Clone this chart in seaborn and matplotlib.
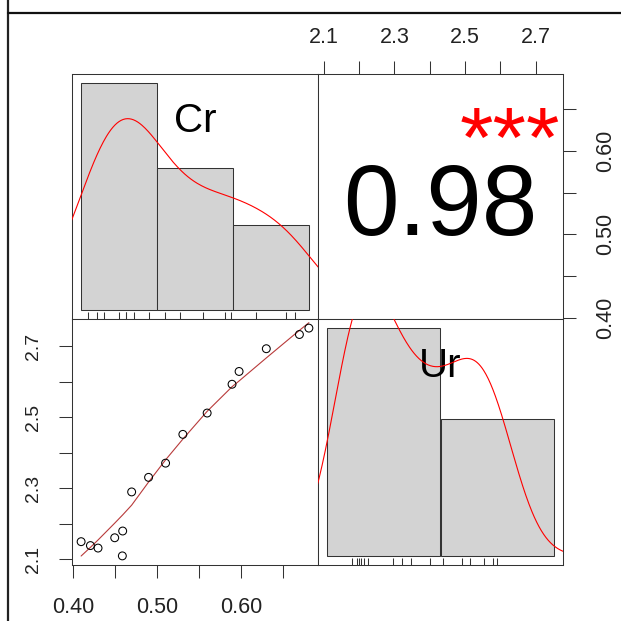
import numpy as np
import pandas as pd
import matplotlib
matplotlib.use("Agg")
import matplotlib.pyplot as plt
from matplotlib.lines import Line2D
import seaborn as sns

# ── data ─────────────────────────────────────────────────────
cr = [0.4095, 0.4206, 0.4297, 0.4496, 0.4591, 0.4587, 0.4698, 0.4900,
      0.5103, 0.5309, 0.5599, 0.5896, 0.5980, 0.6305, 0.6700, 0.6813]
ur = [2.150, 2.139, 2.132, 2.161, 2.180, 2.110, 2.290, 2.331,
      2.371, 2.452, 2.512, 2.593, 2.629, 2.693, 2.733, 2.751]
cr_breaks = [0.4, 0.5, 0.6, 0.7]
ur_breaks = [2.0, 2.5, 3.0]
corr_text = "0.98"
signif_text = "***"
var_names = ["Cr", "Ur"]
cr_ticks = [0.40, 0.45, 0.50, 0.55, 0.60, 0.65]
cr_ticklabels = ["0.40", "", "0.50", "", "0.60", ""]
ur_ticks = [2.1, 2.2, 2.3, 2.4, 2.5, 2.6, 2.7]
ur_ticklabels = ["2.1", "", "2.3", "", "2.5", "", "2.7"]

df = pd.DataFrame({"Cr": cr, "Ur": ur})

# ── style ────────────────────────────────────────────────────
sns.set_style("ticks")
plt.rcParams["font.family"] = ["Liberation Sans", "DejaVu Sans"]
DARK = "#333333"
LW = 0.75


def bw_nrd0(x):
    x = np.asarray(x)
    hi = np.std(x, ddof=1)
    iqr = np.subtract(*np.percentile(x, [75, 25]))
    lo = min(hi, iqr / 1.34)
    return 0.9 * lo * len(x) ** (-0.2)


def lowess(x, y, f=2 / 3, iters=3):
    # plain version of R's lowess()
    order = np.argsort(x)
    x = np.asarray(x, float)[order]
    y = np.asarray(y, float)[order]
    n = len(x)
    ns = max(min(int(f * n + 1e-7), n), 2)
    rw = np.ones(n)
    fit = np.zeros(n)
    for _ in range(iters + 1):
        for i in range(n):
            d = np.abs(x - x[i])
            h = np.sort(d)[ns - 1]
            w = np.clip(1 - (d / h) ** 3, 0, 1) ** 3 * rw
            xm = np.sum(w * x) / np.sum(w)
            ym = np.sum(w * y) / np.sum(w)
            sxx = np.sum(w * (x - xm) ** 2)
            b = np.sum(w * (x - xm) * (y - ym)) / sxx if sxx > 0 else 0
            fit[i] = ym + b * (x[i] - xm)
        res = y - fit
        s = np.median(np.abs(res))
        rw = np.clip(1 - (res / (6 * s)) ** 2, 0, 1) ** 2
    return x, fit


def ext(lo, hi):
    pad = (hi - lo) * 0.04
    return lo - pad, hi + pad


def rect(x0, y0, x1, y1):
    return [x0 / 621, 1 - y1 / 621, (x1 - x0) / 621, (y1 - y0) / 621]


fig = plt.figure(figsize=(6.21, 6.21), dpi=100)

ax_h1 = fig.add_axes(rect(72, 74, 318, 319))
ax_cor = fig.add_axes(rect(318, 74, 563, 319))
ax_sc = fig.add_axes(rect(72, 319, 318, 565))
ax_h2 = fig.add_axes(rect(318, 319, 563, 565))

cr_lim = ext(min(cr), max(cr))
ur_lim = ext(min(ur), max(ur))


# ── diagonal: histograms with density and rug ────────────────
def hist_panel(ax, col, breaks, label):
    x = df[col]
    sns.histplot(x=x, bins=breaks, stat="density", ax=ax, color="#d3d3d3",
                 edgecolor=DARK, linewidth=LW, alpha=1, zorder=1)
    sns.kdeplot(x=x, bw_method=bw_nrd0(x) / np.std(x, ddof=1), ax=ax,
                color="red", linewidth=0.8, cut=3, gridsize=400, zorder=3)
    sns.rugplot(x=x, height=0.03, ax=ax, color=DARK, linewidth=LW,
                expand_margins=False, zorder=2)
    dens, _ = np.histogram(x, bins=breaks, density=True)
    ax.set_xlim(*ext(breaks[0], breaks[-1]))
    ax.set_ylim(*ext(0, dens.max()))
    ax.set_xticks([])
    ax.set_yticks([])
    ax.set_xlabel("")
    ax.set_ylabel("")
    ax.text(0.5, 0.765, label, transform=ax.transAxes, ha="center",
            va="baseline", fontsize=29, color="black", zorder=2.5)


hist_panel(ax_h1, "Cr", cr_breaks, var_names[0])
hist_panel(ax_h2, "Ur", ur_breaks, var_names[1])

# ── lower: scatter with lowess ───────────────────────────────
sns.scatterplot(data=df, x="Cr", y="Ur", ax=ax_sc, facecolors="none",
                edgecolor="black", s=32, linewidth=0.75, zorder=3)
lx, ly = lowess(cr, ur)
sns.lineplot(x=lx, y=ly, ax=ax_sc, color="#b83a3a", linewidth=0.8,
             sort=False, zorder=2)
ax_sc.set_xlim(*cr_lim)
ax_sc.set_ylim(*ur_lim)
ax_sc.set_xticks(cr_ticks)
ax_sc.set_xticklabels(cr_ticklabels)
ax_sc.set_yticks(ur_ticks)
ax_sc.set_yticklabels(ur_ticklabels, rotation=90, va="center")
ax_sc.set_xlabel("")
ax_sc.set_ylabel("")

# ── upper: correlation text ──────────────────────────────────
ax_cor.set_xlim(*ur_lim)
ax_cor.set_ylim(*cr_lim)
ax_cor.xaxis.tick_top()
ax_cor.yaxis.tick_right()
ax_cor.set_xticks(ur_ticks)
ax_cor.set_xticklabels(ur_ticklabels)
ax_cor.set_yticks(cr_ticks)
ax_cor.set_yticklabels(cr_ticklabels, rotation=90, va="center")
ax_cor.text(0.5, 0.343, corr_text, transform=ax_cor.transAxes, ha="center",
            va="baseline", fontsize=72, color="black")
ax_cor.text(0.782, 0.62, signif_text, transform=ax_cor.transAxes,
            ha="center", va="baseline", fontsize=62, color="red",
            clip_on=False)

for ax in (ax_h1, ax_cor, ax_sc, ax_h2):
    for sp in ax.spines.values():
        sp.set_visible(True)
        sp.set_color(DARK)
        sp.set_linewidth(LW)
    ax.tick_params(length=9.7, width=LW, color=DARK, labelsize=15.5,
                   labelcolor="#222222", direction="out")
    ax.grid(False)

ax_sc.tick_params(axis="x", pad=13.5)
ax_sc.tick_params(axis="y", pad=12, labelsize=14)
ax_cor.tick_params(axis="x", pad=9)
ax_cor.tick_params(axis="y", pad=13.5)

# screenshot frame lines
fig.add_artist(Line2D([7.7 / 621, 7.7 / 621], [0, 1], color="#222222",
                      linewidth=1.6, transform=fig.transFigure))
fig.add_artist(Line2D([7.7 / 621, 1], [1 - 13 / 621, 1 - 13 / 621],
                      color="#111111", linewidth=1.6,
                      transform=fig.transFigure))

fig.savefig("out.png", dpi=100, facecolor="white")
